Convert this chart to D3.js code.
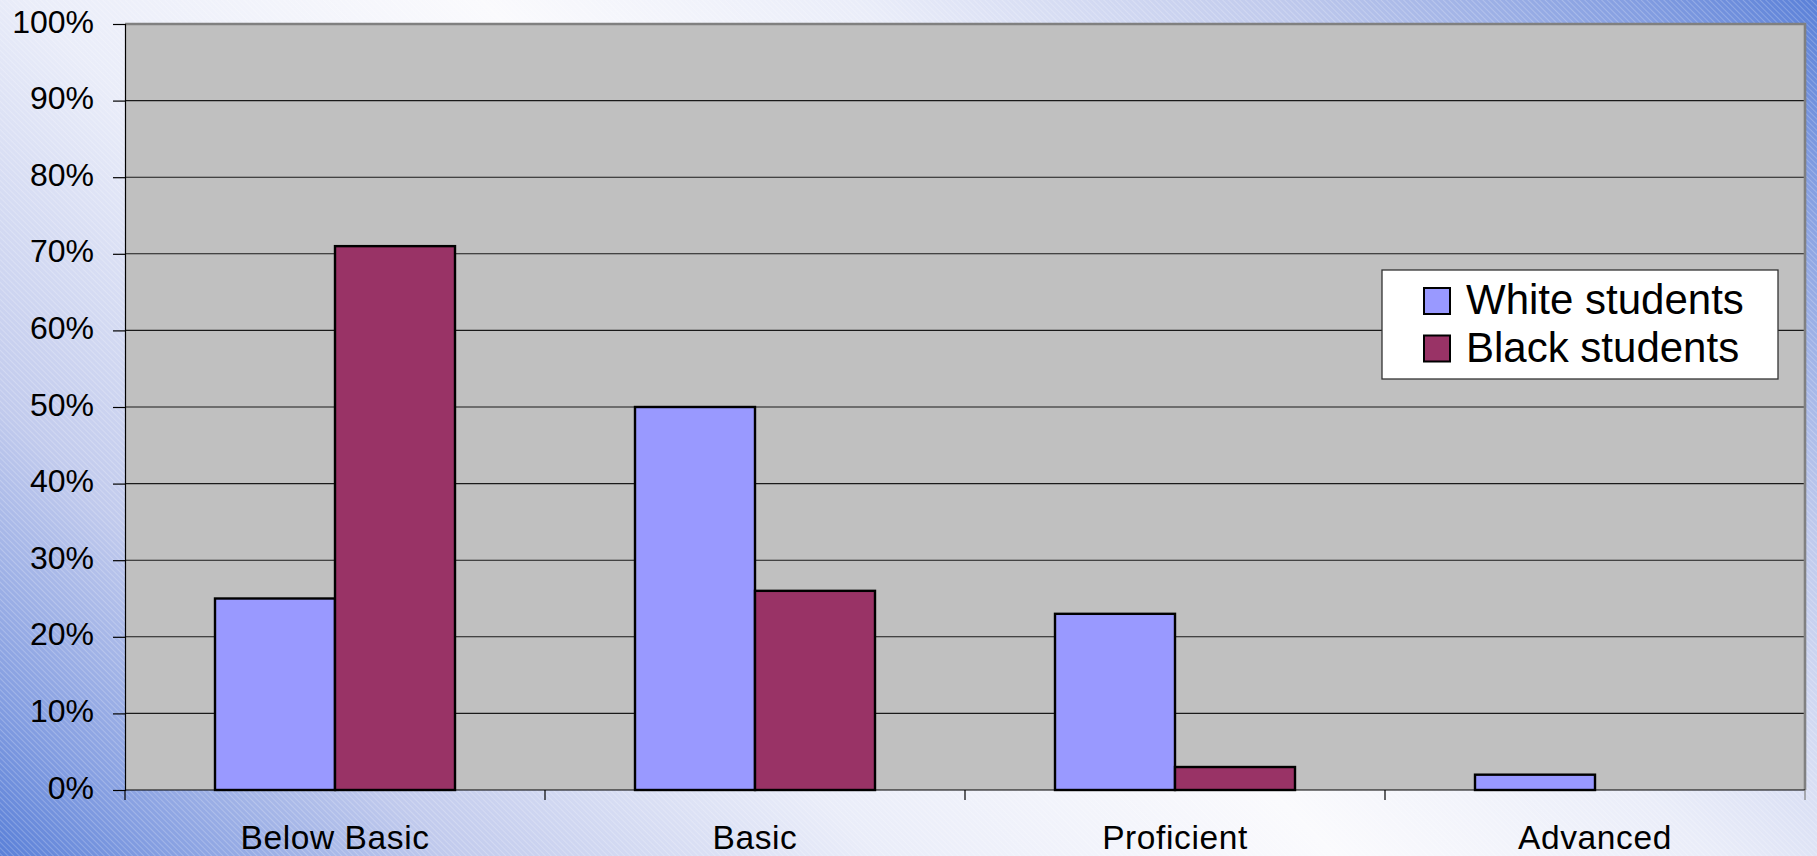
<!DOCTYPE html>
<html>
<head>
<meta charset="utf-8">
<script src="https://cdn.jsdelivr.net/npm/d3@7"></script>
<style>
  html, body { margin: 0; padding: 0; overflow: hidden; background: #f8f9fd; }
  svg { display: block; }
  text { font-family: "Liberation Sans", Arial, sans-serif; fill: #000; }
</style>
</head>
<body>
<svg id="chart" width="1817" height="856"></svg>
<script>
// Achievement levels and share of students at each level (percent)
const categories = ["Below Basic", "Basic", "Proficient", "Advanced"];
const seriesNames = ["White students", "Black students"];
const whiteStudents = [25, 50, 23, 2];
const blackStudents = [71, 26, 3, 0];
const yTicks = [0, 10, 20, 30, 40, 50, 60, 70, 80, 90, 100];

const seriesColors = ["#9999ff", "#993366"];
const seriesValues = [whiteStudents, blackStudents];

const W = 1817, H = 856;
const plot = { left: 125, right: 1805, top: 24, bottom: 790 };

const svg = d3.select("#chart");
const defs = svg.append("defs");

// Slide background: diagonal blue-white-blue gradient with fine hatching
const grad = defs.append("linearGradient")
  .attr("id", "bg")
  .attr("gradientUnits", "userSpaceOnUse")
  .attr("x1", 0).attr("y1", 856)
  .attr("x2", 1336.5).attr("y2", -480.5);
[
  [0, "#5a80d8"], [0.06, "#849ee1"], [0.17, "#c2cbed"], [0.33, "#eaedf9"],
  [0.5, "#fafafd"], [0.64, "#eaedf9"], [0.8, "#bfc9ec"], [0.93, "#849ee1"], [1, "#5a80d8"]
].forEach(([o, c]) => grad.append("stop").attr("offset", o).attr("stop-color", c));

const hatch = defs.append("pattern")
  .attr("id", "hatch")
  .attr("patternUnits", "userSpaceOnUse")
  .attr("width", 4).attr("height", 4)
  .attr("patternTransform", "rotate(-45)");
hatch.append("line")
  .attr("x1", 0.5).attr("y1", 0).attr("x2", 0.5).attr("y2", 4)
  .attr("stroke", "#ffffff").attr("stroke-opacity", 0.22).attr("stroke-width", 1);

svg.append("rect").attr("width", W).attr("height", H).attr("fill", "url(#bg)");
svg.append("rect").attr("width", W).attr("height", H).attr("fill", "url(#hatch)");

// Scales
const y = d3.scaleLinear().domain([0, 100]).range([plot.bottom, plot.top]);
const x0 = d3.scaleBand().domain(categories).range([plot.left, plot.right]).padding(0);
const x1 = d3.scaleBand().domain(seriesNames).range([0, x0.bandwidth()])
  .paddingInner(0).paddingOuter(0.75);

// Plot area
svg.append("rect")
  .attr("x", plot.left).attr("y", plot.top)
  .attr("width", plot.right - plot.left).attr("height", plot.bottom - plot.top)
  .attr("fill", "#c0c0c0");

// Horizontal gridlines
svg.append("g")
  .selectAll("line")
  .data(yTicks.filter(d => d > 0 && d < 100))
  .join("line")
  .attr("x1", plot.left).attr("x2", plot.right)
  .attr("y1", d => y(d)).attr("y2", d => y(d))
  .attr("stroke", "#1a1a1a").attr("stroke-width", 1.1);

// Plot frame (top and right edges)
svg.append("path")
  .attr("d", `M${plot.left},${plot.top}H${plot.right}V${plot.bottom}`)
  .attr("fill", "none").attr("stroke", "#808080").attr("stroke-width", 2.6);

// Bars
const groups = svg.append("g")
  .selectAll("g")
  .data(categories)
  .join("g")
  .attr("transform", d => `translate(${x0(d)},0)`);

groups.selectAll("rect")
  .data((c, i) => seriesNames.map((s, k) => ({ s, k, v: seriesValues[k][i] })).filter(d => d.v > 0))
  .join("rect")
  .attr("x", d => x1(d.s))
  .attr("width", x1.bandwidth())
  .attr("y", d => y(d.v))
  .attr("height", d => y(0) - y(d.v))
  .attr("fill", d => seriesColors[d.k])
  .attr("stroke", "#000").attr("stroke-width", 2.4);

// Y axis
const yAxis = svg.append("g")
  .attr("transform", `translate(${plot.left},0)`)
  .call(d3.axisLeft(y).tickValues(yTicks).tickSize(12).tickPadding(19).tickFormat(d => d + "%"));
yAxis.select(".domain").attr("stroke", "#000").attr("stroke-width", 1.2);
yAxis.selectAll(".tick line").attr("stroke", "#000").attr("stroke-width", 1.2);
yAxis.selectAll(".tick text")
  .attr("font-size", 32).attr("font-family", "Liberation Sans, Arial, sans-serif")
  .attr("fill", "#000").attr("dy", "0.25em");
yAxis.attr("font-size", null).attr("font-family", null);

// X axis: baseline, ticks at category boundaries, centred labels
const xAxis = svg.append("g").attr("transform", `translate(0,${plot.bottom})`);
xAxis.append("line")
  .attr("x1", plot.left).attr("x2", plot.right)
  .attr("stroke", "#000").attr("stroke-width", 1.2);
const boundaries = categories.map(c => x0(c)).concat([x0(categories[categories.length - 1]) + x0.bandwidth()]);
xAxis.selectAll("line.tick")
  .data(boundaries)
  .join("line")
  .attr("class", "tick")
  .attr("x1", d => d).attr("x2", d => d)
  .attr("y1", 0).attr("y2", 10)
  .attr("stroke", (d, i) => i === boundaries.length - 1 ? "#808080" : "#000")
  .attr("stroke-width", 1.2);
xAxis.selectAll("text")
  .data(categories)
  .join("text")
  .attr("x", d => x0(d) + x0.bandwidth() / 2)
  .attr("y", 59)
  .attr("text-anchor", "middle")
  .attr("font-size", 33.5)
  .attr("letter-spacing", 0.6)
  .text(d => d);

// Legend
const legend = svg.append("g").attr("transform", "translate(1382,270)");
legend.append("rect")
  .attr("width", 396).attr("height", 109)
  .attr("fill", "#ffffff").attr("stroke", "#333").attr("stroke-width", 1.3);
const items = legend.selectAll("g.item")
  .data(seriesNames)
  .join("g")
  .attr("class", "item")
  .attr("transform", (d, i) => `translate(0,${18 + i * 47.5})`);
items.append("rect")
  .attr("x", 42).attr("y", 0)
  .attr("width", 26).attr("height", 26)
  .attr("fill", (d, i) => seriesColors[i])
  .attr("stroke", "#000").attr("stroke-width", 2);
items.append("text")
  .attr("x", 84).attr("y", 26)
  .attr("font-size", 42)
  .text(d => d);
</script>
</body>
</html>
